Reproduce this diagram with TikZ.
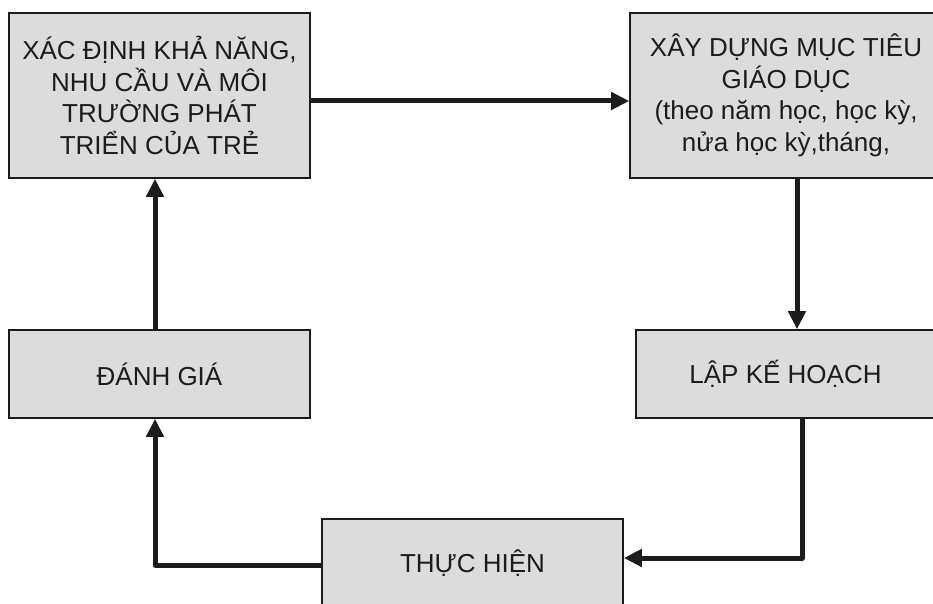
\documentclass[tikz,border=0pt]{standalone}
\usepackage{fontspec}
\setmainfont{Liberation Sans}
\usetikzlibrary{arrows.meta,calc}
\definecolor{boxfill}{HTML}{DCDCDC}
\definecolor{ink}{HTML}{1C1C1C}
\tikzset{
  box/.style={draw=ink, line width=1.6pt, fill=boxfill, text=ink, align=center,
    inner sep=0pt, font=\fontsize{26}{31.5}\selectfont},
  arr/.style={draw=ink, line width=5pt, line join=round,
    -{Triangle[length=18pt,width=17pt]}}
}
\begin{document}
\begin{tikzpicture}[x=1pt,y=-1pt]
\useasboundingbox (0,0) rectangle (933,604);
\clip (0,0) rectangle (933,604);
\node[box, minimum width=301pt, minimum height=165pt] (b1) at (159.5,95.5)
  {XÁC ĐỊNH KHẢ NĂNG,\\NHU CẦU VÀ MÔI\\TRƯỜNG PHÁT\\TRIỂN CỦA TRẺ};
\node[box, minimum width=312pt, minimum height=165pt] (b2) at (786,95.5)
  {XÂY DỰNG MỤC TIÊU\\GIÁO DỤC\\(theo năm học, học kỳ,\\nửa học kỳ,tháng,};
\node[box, minimum width=301pt, minimum height=88pt] (b4) at (159.5,374) {ĐÁNH GIÁ};
\node[box, minimum width=299pt, minimum height=88pt] (b3) at (785.5,374) {LẬP KẾ HOẠCH};
\node[box, minimum width=301pt, minimum height=88pt] (b5) at (472.5,563) {THỰC HIỆN};
\draw[arr] (b1.east |- 0,101) -- (b2.west |- 0,101);
\draw[arr] (b2.south -| 797,0) -- (b3.north -| 797,0);
\draw[arr] (b3.south -| 802,0) |- (b5.east |- 0,558);
\draw[arr] (b5.west |- 0,565) -| (b4.south -| 155,0);
\draw[arr] (b4.north -| 155,0) -- (b1.south -| 155,0);
\end{tikzpicture}
\end{document}
